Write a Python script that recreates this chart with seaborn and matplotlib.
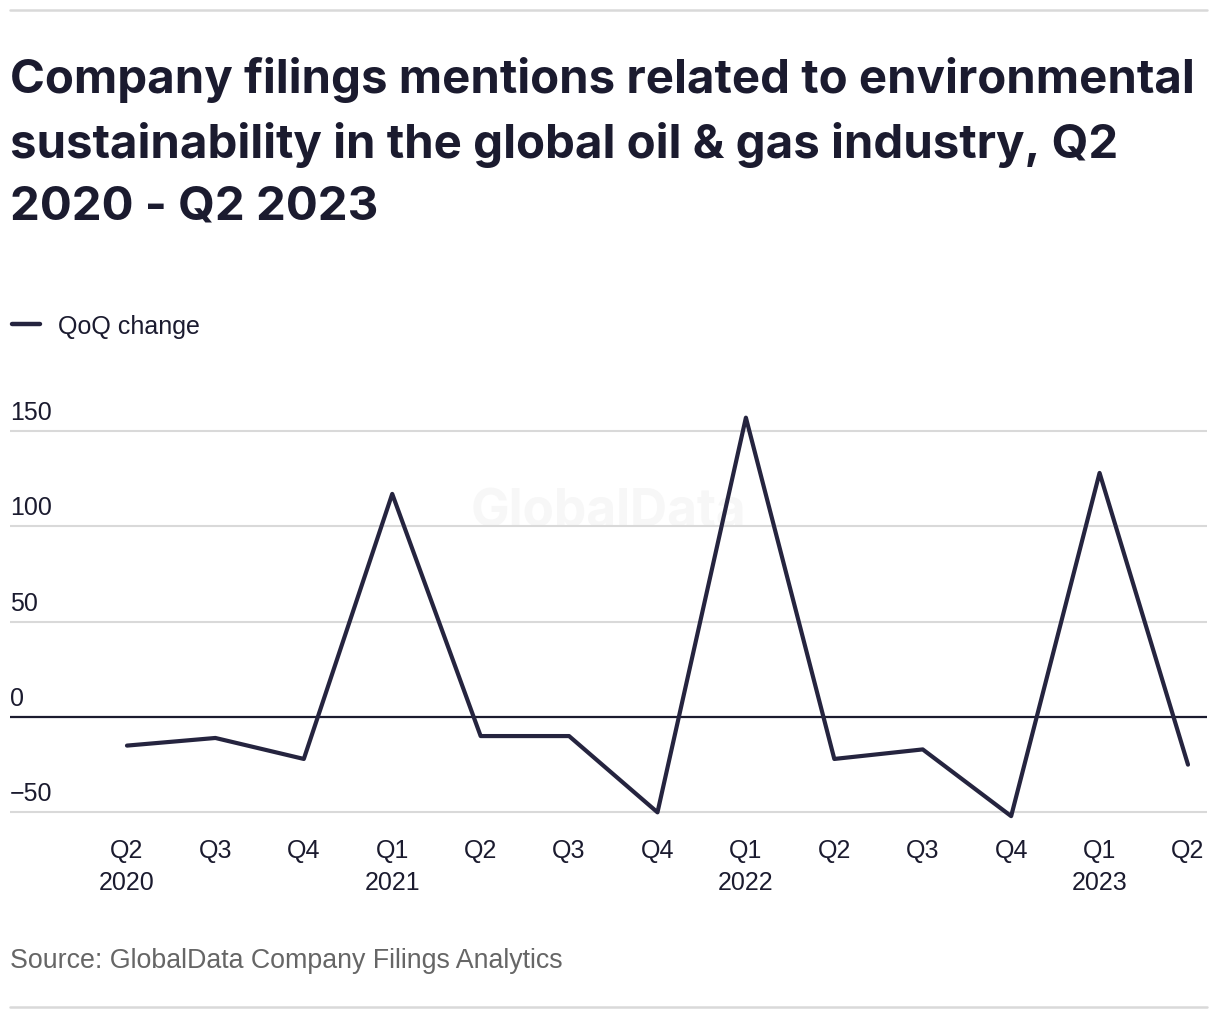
import matplotlib
matplotlib.use("Agg")
import matplotlib.pyplot as plt
import seaborn as sns
import pandas as pd
from matplotlib.lines import Line2D

# --- datos ---
trimestres = ["Q2\n2020", "Q3", "Q4", "Q1\n2021", "Q2", "Q3", "Q4",
              "Q1\n2022", "Q2", "Q3", "Q4", "Q1\n2023", "Q2"]
qoq = [-15, -11, -22, 117, -10, -10, -50, 157, -22, -17, -52, 128, -25]
yticks = [-50, 0, 50, 100, 150]
ytick_labels = ["\u221250", "0", "50", "100", "150"]

titulo = ("Company filings mentions related to environmental\n"
          "sustainability in the global oil & gas industry, Q2\n"
          "2020 - Q2 2023")
fuente = "Source: GlobalData Company Filings Analytics"

LINEA = "#25243f"
TEXTO = "#1b1b2f"
GRIS = "#d9d9d9"

sns.set_style("white")
plt.rcParams["font.family"] = ["Liberation Sans", "DejaVu Sans"]

df = pd.DataFrame({"x": range(len(qoq)), "qoq": qoq})

fig = plt.figure(figsize=(12.2, 10.2), dpi=100)
ax = fig.add_axes([10 / 1220, 1 - 832.4 / 1020, 1197 / 1220, 0.4206])

for v, lab in zip(yticks, ytick_labels):
    if v == 0:
        ax.axhline(v, color=TEXTO, lw=1.6, zorder=2)
    else:
        ax.axhline(v, color=GRIS, lw=1.5, zorder=1)
    ax.annotate(lab, xy=(0, v), xycoords=ax.get_yaxis_transform(),
                xytext=(0, 5), textcoords="offset points", ha="left",
                va="bottom", fontsize=18, color=TEXTO)

ax.text(0.5, 0.745, "GlobalData", transform=ax.transAxes, ha="center",
        va="center", fontsize=37, fontweight="bold", color="#f7f7f7",
        family=["Inter", "DejaVu Sans"], zorder=0)

sns.lineplot(data=df, x="x", y="qoq", ax=ax, color=LINEA, lw=3, zorder=3)

ax.set_xlim(-1.323, 12.215)
ax.set_ylim(-60, 165)
ax.set_xticks(range(len(trimestres)))
ax.set_xticklabels(trimestres, fontsize=18, color=TEXTO, linespacing=1.4)
ax.set_yticks([])
ax.tick_params(axis="x", length=0, pad=5)
ax.set_xlabel("")
ax.set_ylabel("")
for s in ax.spines.values():
    s.set_visible(False)

# leyenda
ax.legend(handles=[Line2D([0], [0], color=LINEA, lw=3.2)], labels=["QoQ change"],
          loc="center left", bbox_to_anchor=(12 / 1220, 1 - 327 / 1020),
          bbox_transform=fig.transFigure, frameon=False, fontsize=18,
          borderpad=0, borderaxespad=0, handlelength=1.12,
          handletextpad=0.72, labelcolor=TEXTO)

fig.text(10 / 1220, 1 - 57 / 1020, titulo, ha="left", va="top", fontsize=34.1,
         fontweight="bold", color=TEXTO, linespacing=1.52,
         family=["Inter", "DejaVu Sans"])
fig.text(10 / 1220, 1 - 961 / 1020, fuente, ha="left", va="center",
         fontsize=19.3, color="#666666")

fig.add_artist(Line2D([10 / 1220, 1207 / 1220], [1 - 11 / 1020, 1 - 11 / 1020],
                      color=GRIS, lw=1.8, transform=fig.transFigure))
fig.add_artist(Line2D([10 / 1220, 1207 / 1220], [1 - 1008 / 1020, 1 - 1008 / 1020],
                      color=GRIS, lw=1.8, transform=fig.transFigure))

fig.savefig("out.png", dpi=100, facecolor="white")
